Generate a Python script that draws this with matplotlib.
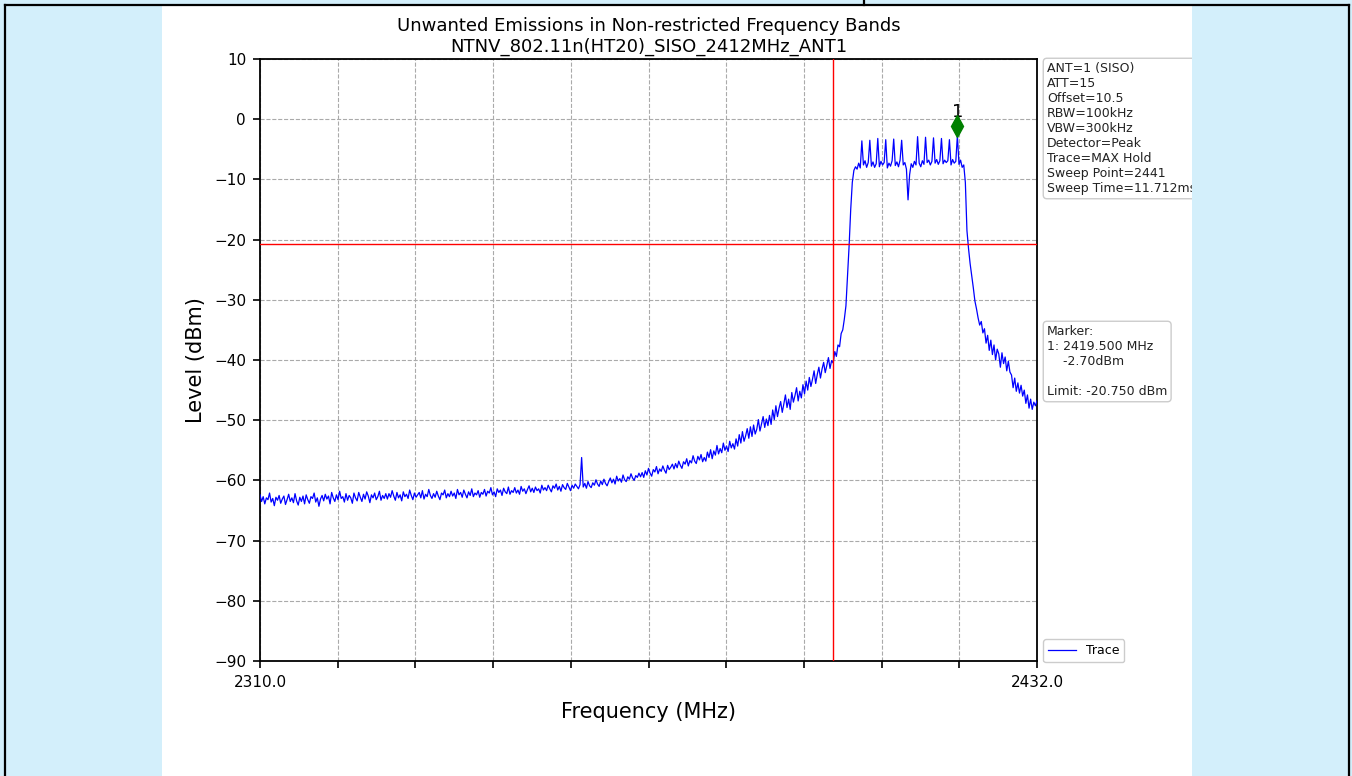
import matplotlib
matplotlib.use('Agg')
import matplotlib.pyplot as plt
from matplotlib.patches import Rectangle
from matplotlib.lines import Line2D
import numpy as np

W, H = 1352, 776

# trace, one value every 0.25 MHz
freq = np.arange(2310.0, 2432.01, 0.25)
# 2310 .. 2399.75 MHz, 20 values (5 MHz) per row
level_below = [
    -62.4, -63.5, -62.7, -63.9, -62.9, -63.2, -62.1, -63.6, -63.0, -64.2, -62.8, -63.3, -62.5, -63.8, -63.1, -62.6, -64.0, -63.2, -62.3, -63.5,
    -62.9, -63.7, -62.2, -63.4, -64.1, -62.8, -63.5, -62.6, -63.9, -62.4, -63.2, -63.8, -62.7, -63.0, -62.1, -63.6, -62.9, -64.3, -63.1, -62.5,
    -63.4, -62.3, -63.1, -62.6, -63.9, -62.0, -62.9, -63.5, -62.4, -63.2, -61.8, -63.0, -62.7, -63.6, -62.2, -63.3, -62.5, -62.9, -63.8, -62.1,
    -62.9, -63.4, -62.0, -62.8, -63.5, -62.3, -63.1, -61.9, -62.6, -63.7, -62.4, -62.9, -62.1, -63.2, -62.7, -61.8, -63.3, -62.5, -63.0, -62.2,
    -63.1, -62.2, -62.8, -61.7, -62.6, -63.3, -62.0, -62.9, -62.4, -63.4, -61.9, -62.7, -62.3, -63.0, -61.6, -62.5, -63.2, -62.1, -62.8, -62.4,
    -62.0, -62.9, -61.7, -63.1, -62.3, -62.7, -61.5, -62.5, -63.0, -62.2, -62.8, -61.8, -62.6, -63.2, -62.1, -62.4, -61.6, -62.9, -62.2, -62.7,
    -61.8, -62.6, -62.1, -63.0, -61.5, -62.4, -62.0, -62.8, -61.6, -62.3, -62.9, -61.9, -62.5, -61.4, -62.7, -62.1, -62.4, -61.7, -62.8, -62.0,
    -62.3, -61.5, -62.6, -61.8, -62.1, -61.2, -62.4, -61.9, -62.7, -61.4, -62.0, -61.6, -62.5, -61.3, -61.9, -62.2, -61.1, -62.3, -61.7, -62.0,
    -61.2, -62.1, -61.6, -62.3, -61.0, -61.8, -61.4, -62.2, -61.5, -60.9, -61.9, -61.3, -62.0, -61.1, -61.7, -61.4, -62.1, -60.8, -61.6, -61.2,
    -61.7, -60.8, -61.4, -61.9, -60.9, -61.3, -60.6, -61.6, -61.0, -61.8, -60.7, -61.2, -61.5, -60.5, -61.1, -61.7, -60.8, -61.3, -60.6, -61.0,
    -61.4, -60.7, -56.2, -61.1, -60.5, -61.3, -60.2, -60.9, -61.2, -60.4, -60.8, -59.9, -60.6, -61.0, -60.1, -60.7, -59.8, -60.5, -60.9, -60.2,
    -59.6, -60.4, -59.8, -60.6, -59.3, -60.1, -59.7, -60.3, -59.1, -59.9, -60.2, -59.4, -59.8, -58.9, -59.6, -60.0, -59.2, -59.5, -58.8, -59.4,
    -58.7, -59.5, -58.4, -59.1, -58.0, -58.8, -59.3, -58.2, -58.6, -57.7, -58.9, -58.1, -58.5, -57.6, -58.3, -58.8, -57.5, -58.2, -57.8, -57.3,
    -58.1, -57.2, -57.9, -56.8, -57.5, -58.0, -56.9, -57.3, -56.4, -57.6, -56.7, -57.1, -55.9, -56.8, -57.2, -56.0, -56.6, -55.7, -56.9, -56.2,
    -56.8, -55.3, -56.2, -54.9, -56.4, -55.1, -55.8, -54.2, -55.6, -54.7, -55.4, -53.8, -55.0, -54.3, -55.2, -53.5, -54.6, -53.9, -54.8, -53.1,
    -54.3, -52.4, -53.8, -51.9, -53.5, -52.6, -51.4, -53.0, -51.1, -52.7, -50.8, -52.3, -51.5, -49.9, -51.8, -50.6, -49.4, -51.2, -49.8, -50.9,
    -49.2, -50.7, -48.3, -49.9, -47.6, -49.4, -48.0, -46.9, -48.7, -47.3, -45.8, -47.9, -46.5, -48.2, -45.4, -47.0, -45.9, -44.6, -46.8, -45.2,
    -46.3, -44.1, -45.6, -43.5, -45.0, -42.9, -44.4, -43.2, -41.8, -43.9, -42.4, -41.2, -43.0, -41.5, -40.4, -42.1, -40.9, -39.6, -41.4, -40.1,
]
# 2400 .. 2432 MHz, 8 values (2 MHz) per row
level_above = [
    -40.5, -38.6, -39.4, -37.5, -37.8, -35.6, -35.0, -33.2,
    -31.0, -26.0, -21.0, -15.0, -10.5, -8.5, -7.9, -8.3,
    -7.3, -8.1, -3.6, -7.6, -6.9, -8.0, -7.2, -3.5,
    -7.8, -7.1, -8.0, -7.4, -3.2, -7.9, -7.0, -7.6,
    -7.2, -3.4, -8.1, -7.3, -7.8, -6.9, -3.3, -7.7,
    -7.1, -7.9, -6.8, -3.5, -7.6, -7.2, -8.3, -13.4,
    -9.2, -7.4, -8.0, -7.0, -7.6, -2.9, -7.3, -7.9,
    -6.9, -7.5, -3.0, -7.2, -6.8, -7.6, -7.0, -3.1,
    -7.3, -6.7, -7.5, -6.9, -3.2, -7.4, -6.8, -7.2,
    -6.9, -3.4, -7.6, -6.7, -7.3, -7.0, -2.7, -7.5,
    -6.8, -8.0, -7.6, -10.5, -18.5, -21.5, -24.0, -26.0,
    -28.0, -30.2, -31.5, -33.0, -34.2, -33.6, -35.5, -34.8,
    -37.2, -35.9, -38.4, -36.7, -39.1, -37.5, -40.0, -38.2,
    -39.0, -41.2, -38.8, -40.6, -39.5, -41.8, -40.2, -42.0,
    -42.5, -44.6, -43.0, -45.2, -43.8, -45.5, -44.2, -46.0,
    -45.0, -47.2, -45.8, -48.0, -46.5, -48.2, -47.0, -47.6,
    -46.8,
]

limit = -20.75
band_edge = 2400.0
marker_freq = 2419.5
marker_y = -1.2   # where the diamond sits on the plot
x_ticks = np.linspace(2310.0, 2432.0, 11)
x_labels = ['2310.0'] + [''] * 9 + ['2432.0']
y_ticks = np.arange(10, -91, -10)

title = ("Unwanted Emissions in Non-restricted Frequency Bands\n"
         "NTNV_802.11n(HT20)_SISO_2412MHz_ANT1")
info = ("ANT=1 (SISO)\nATT=15\nOffset=10.5\nRBW=100kHz\nVBW=300kHz\n"
        "Detector=Peak\nTrace=MAX Hold\nSweep Point=2441\nSweep Time=11.712ms")
marker_info = "Marker:\n1: 2419.500 MHz\n    -2.70dBm\n\nLimit: -20.750 dBm"

page_blue = '#d3effb'


def fx(x):
    return x / W


def fy(y):
    return 1 - y / H


fig = plt.figure(figsize=(W / 100, H / 100), dpi=100, facecolor=page_blue)

# white page behind the chart
fig.add_artist(Rectangle((fx(162), 0), fx(1192) - fx(162), fy(5),
                         transform=fig.transFigure, facecolor='white',
                         edgecolor='none', zorder=-1))

ax = fig.add_axes([fx(260), fy(661), fx(1037) - fx(260), fy(59) - fy(661)])
ax.set_facecolor('white')

level = np.concatenate([level_below, level_above])
ax.plot(freq, level, color='blue', lw=0.9, label='Trace', zorder=3)

ax.axvline(band_edge, color='red', lw=1, zorder=4)
ax.axhline(limit, color='red', lw=1, zorder=4)

ax.plot(marker_freq, marker_y, 'd', color='green', ms=11, zorder=5)
ax.text(marker_freq, 0.4, '1', ha='center', va='baseline', fontsize=13)

ax.set_xlim(2310, 2432)
ax.set_ylim(-90, 10)
ax.set_xticks(x_ticks)
ax.set_xticklabels(x_labels)
ax.set_yticks(y_ticks)
ax.tick_params(labelsize=11, width=1.2, length=5, pad=5)
ax.grid(True, color='#aaaaaa', ls='--', lw=0.8)
for s in ax.spines.values():
    s.set_linewidth(1.3)

ax.set_title(title, fontsize=13, pad=5)
ax.set_xlabel('Frequency (MHz)', fontsize=15, labelpad=9)
ax.set_ylabel('Level (dBm)', fontsize=15, labelpad=6)

box = dict(boxstyle='round,pad=0.3', facecolor='white', edgecolor='#cccccc', lw=1)
fig.text(fx(1047), fy(62), info, ha='left', va='top', fontsize=9,
         color='#222222', bbox=box, linespacing=1.2)
fig.text(fx(1047), fy(325), marker_info, ha='left', va='top', fontsize=9,
         color='#222222', bbox=box, linespacing=1.2)

ax.legend(loc='lower left', bbox_to_anchor=(fx(1043), fy(662)),
          bbox_transform=fig.transFigure, borderaxespad=0, fontsize=9,
          handlelength=2.2, fancybox=True, framealpha=1, edgecolor='#cccccc')

# page margin on the right hides what runs past the white page
fig.add_artist(Rectangle((fx(1192), 0), 1 - fx(1192), 1,
                         transform=fig.transFigure, facecolor=page_blue,
                         edgecolor='none', zorder=10))

# black frame of the screenshot
for xs, ys in [((5, 1349), (5, 5)), ((5, 5), (5, 776)),
               ((1349, 1349), (5, 776)), ((864, 864), (0, 5))]:
    fig.add_artist(Line2D([fx(v) for v in xs], [fy(v) for v in ys],
                          transform=fig.transFigure, color='black', lw=1.6,
                          zorder=11))

fig.savefig('out.png', dpi=100, facecolor=page_blue)
